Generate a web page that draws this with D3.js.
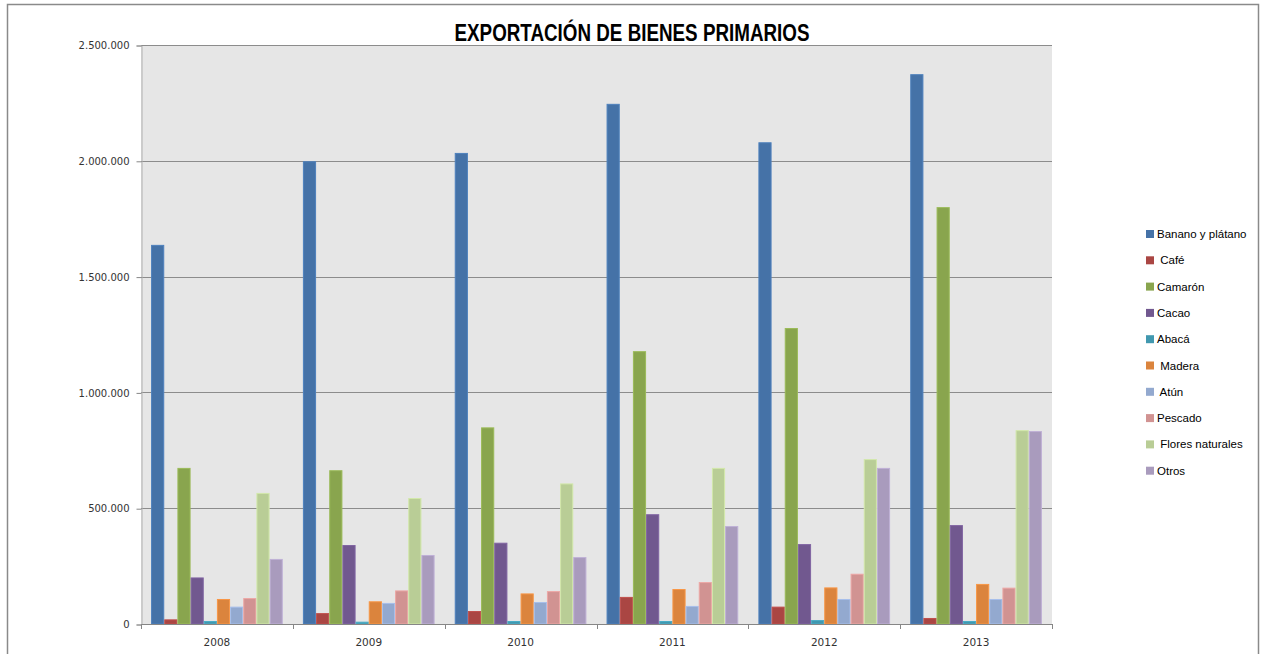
<!DOCTYPE html>
<html><head><meta charset="utf-8">
<script src="https://cdn.jsdelivr.net/npm/d3@7"></script>
<style>
html,body{margin:0;padding:0;background:#fff;}
svg{display:block;}
</style></head>
<body>
<svg id="c" width="1262" height="654"></svg>
<script>
const years = ["2008","2009","2010","2011","2012","2013"];
const seriesNames = ["Banano y plátano"," Café","Camarón","Cacao","Abacá"," Madera"," Atún","Pescado"," Flores naturales","Otros"];
const colors = ["#4572A7","#AA4643","#89A54E","#71588F","#4198AF","#DB843D","#93A9CF","#D19392","#B9CD96","#A99BBD"];
const banano   = [1637000,1998000,2034000,2246000,2080000,2374000];
const cafe     = [20000,47000,56000,117000,75000,26000];
const camaron  = [674000,664000,849000,1178000,1278000,1800000];
const cacao    = [201000,341000,351000,474000,345000,427000];
const abaca    = [13000,10000,13000,13000,17000,13000];
const madera   = [108000,98000,132000,151000,158000,173000];
const atun     = [75000,91000,95000,78000,108000,108000];
const pescado  = [112000,145000,142000,181000,217000,157000];
const flores   = [566000,544000,607000,674000,712000,837000];
const otros    = [281000,298000,289000,423000,674000,833000];
const yTicks = [0,500000,1000000,1500000,2000000,2500000];
const title = "EXPORTACIÓN DE BIENES PRIMARIOS";

const seriesValues = [banano,cafe,camaron,cacao,abaca,madera,atun,pescado,flores,otros];

const svg = d3.select("#c");
const L = 141, R = 1052, T = 45, B = 624;

// outer frame
svg.append("rect").attr("x",7.5).attr("y",4.5).attr("width",1251).attr("height",660)
  .attr("fill","none").attr("stroke","#8a8a8a").attr("stroke-width",1.5);

// plot background
svg.append("rect").attr("x",L).attr("y",T).attr("width",R-L).attr("height",B-T).attr("fill","#E6E6E6");

const y = d3.scaleLinear().domain([0,2500000]).range([B,T]);
const x0 = d3.scaleBand().domain(years).range([L,R]).padding(0);
const gap = 1.53;
const cw = x0.bandwidth();
const bw = cw/(10+gap);
const x1 = d3.scaleBand().domain(d3.range(10)).range([bw*gap/2, cw-bw*gap/2]).padding(0);

// gridlines
svg.append("g").selectAll("line").data(yTicks.filter(d=>d>0)).join("line")
  .attr("x1",L).attr("x2",R).attr("y1",d=>Math.round(y(d))+0.5).attr("y2",d=>Math.round(y(d))+0.5)
  .attr("stroke","#8c8c8c").attr("stroke-width",1);

// y axis
const fmt = d => d3.format(",")(d).replace(/,/g,".");
const yAxis = svg.append("g").attr("transform",`translate(${L+0.5},0.5)`)
  .call(d3.axisLeft(y).tickValues(yTicks).tickFormat(fmt).tickSize(5).tickPadding(7));
yAxis.select(".domain").attr("stroke","#b0b0b0");
yAxis.selectAll(".tick line").attr("stroke","#868686");
yAxis.selectAll("text").attr("fill","#333").style("font-family","'DejaVu Sans',Verdana,sans-serif").style("font-size","10px");

// bars
const groups = svg.append("g").selectAll("g").data(years).join("g")
  .attr("transform",d=>`translate(${x0(d)},0)`);
groups.selectAll("rect").data((yr,i)=>seriesValues.map((s,k)=>({k, v:s[i]}))).join("rect")
  .attr("x",d=>x1(d.k)+0.5).attr("width",x1.bandwidth()-1)
  .attr("y",d=>y(d.v)+0.5).attr("height",d=>B-y(d.v)-0.5)
  .attr("fill",d=>colors[d.k])
  .attr("stroke",d=>d3.color(colors[d.k]).brighter(0.35).formatHex())
  .attr("stroke-width",1);

// x axis
svg.append("line").attr("x1",L).attr("x2",R).attr("y1",B+0.5).attr("y2",B+0.5).attr("stroke","#868686");
const xa = svg.append("g").attr("transform",`translate(0,${B+0.5})`)
  .call(d3.axisBottom(x0).tickSize(0).tickPadding(14));
xa.select(".domain").remove();
xa.selectAll("text").attr("fill","#333").style("font-family","'DejaVu Sans',Verdana,sans-serif").style("font-size","10.5px");
// x tick marks between categories
svg.append("g").selectAll("line").data([...years.map(d=>x0(d)), R]).join("line")
  .attr("x1",d=>Math.round(d)+0.5).attr("x2",d=>Math.round(d)+0.5).attr("y1",B).attr("y2",B+5)
  .attr("stroke","#868686");

// title
svg.append("text").attr("x",632).attr("y",41).attr("text-anchor","middle")
  .attr("textLength",355).attr("lengthAdjust","spacingAndGlyphs")
  .style("font-family","'Liberation Sans Narrow','Arial Narrow',sans-serif").style("font-weight","bold")
  .style("font-size","23px").attr("fill","#000").text(title);

// legend
const lg = svg.append("g").selectAll("g").data(seriesNames).join("g")
  .attr("transform",(d,i)=>`translate(1146,${234 + i*26.3})`);
lg.append("rect").attr("x",0).attr("y",-4).attr("width",8).attr("height",8).attr("fill",(d,i)=>colors[i]);
lg.append("text").attr("x",11).attr("y",4).attr("fill","#000")
  .style("font-family","'Liberation Sans Narrow','Arial Narrow',sans-serif").style("font-size","11.5px")
  .style("white-space","pre").attr("xml:space","preserve").text(d=>d);
</script>
</body></html>
